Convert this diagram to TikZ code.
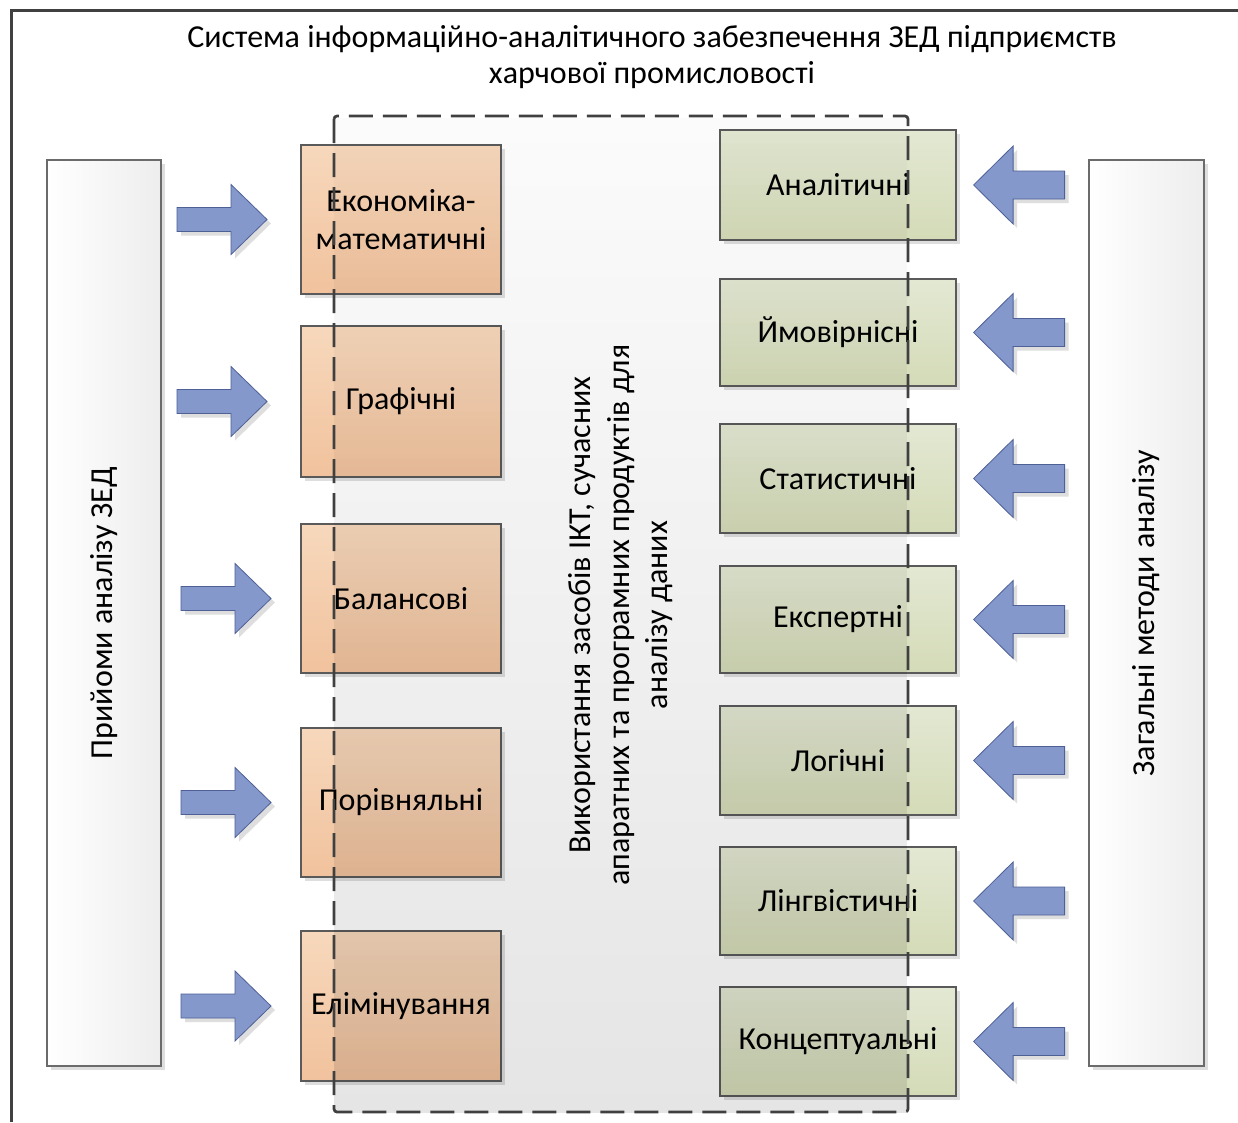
\documentclass[tikz,border=0pt]{standalone}
\usepackage{fontspec}
\setmainfont{Carlito}
\usetikzlibrary{fadings,shadows}

\definecolor{frameline}{HTML}{404040}
\definecolor{boxline}{HTML}{5A5A5A}
\definecolor{orangetop}{HTML}{F7D8BC}
\definecolor{orangebot}{HTML}{F1C29D}
\definecolor{greentop}{HTML}{E3E8D3}
\definecolor{greenbot}{HTML}{D4DBB7}
\definecolor{arrowfill}{HTML}{8498CB}
\definecolor{arrowline}{HTML}{4F6097}
\definecolor{shadowgray}{HTML}{DEDEDE}

\tikzfading[name=downshade, top color=transparent!85, bottom color=transparent!0]

\tikzset{
  txt/.style={font=\fontsize{32}{38}\selectfont, text=black},
  boxshadow/.style={drop shadow={shadow xshift=4pt, shadow yshift=-4pt, fill=shadowgray, opacity=1}},
  sidebox/.style={txt, draw=boxline!90, line width=1.2pt, left color=white, right color=black!7,
                  boxshadow, minimum height=906pt, inner sep=0pt},
  orangebox/.style={txt, draw=boxline, line width=1.2pt, top color=orangetop, bottom color=orangebot,
                    boxshadow, minimum width=200pt, align=center, inner sep=0pt},
  greenbox/.style={txt, draw=boxline, line width=1.2pt, top color=greentop, bottom color=greenbot,
                   boxshadow, minimum width=236pt, align=center, inner sep=0pt},
  blockarrow/.style={fill=arrowfill, draw=arrowline, line width=0.8pt,
                     drop shadow={shadow xshift=4pt, shadow yshift=-4pt, fill=shadowgray, opacity=1}},
  % block arrow pointing right, placed by its tip
  toright/.pic={\path[blockarrow] (0,0) -- (-36,-35) -- (-36,-12) -- (-90,-12) -- (-90,12)
                 -- (-36,12) -- (-36,35) -- cycle;},
  % block arrow pointing left, placed by its tip
  toleft/.pic={\path[blockarrow] (0,0) -- (39.5,-39) -- (39.5,-14) -- (91,-14) -- (91,14)
                -- (39.5,14) -- (39.5,39) -- cycle;},
}

\begin{document}
\begin{tikzpicture}[x=1pt,y=-1pt]
  \useasboundingbox (0,0) rectangle (1238,1122);
  \fill[white] (0,0) rectangle (1238,1122);

  % outer frame
  \draw[frameline, line width=3pt] (11,1122) -- (11,10) -- (1238,10);

  % title
  \node[txt, align=center, font=\fontsize{32}{36}\selectfont] (title) at (652,57)
    {Система інформаційно-аналітичного забезпечення ЗЕД підприємств\\харчової промисловості};

  % side panels
  \node[sidebox, minimum width=114pt] (left) at (104,613)
    {\rotatebox{90}{Прийоми аналізу ЗЕД}};
  \node[sidebox, minimum width=115pt] (right) at (1146.5,613)
    {\rotatebox{90}{Загальні методи аналізу}};

  % analysis techniques
  \node[orangebox, minimum height=149pt] (o1) at (401,219.5) {Економіка-\\математичні};
  \node[orangebox, minimum height=151pt] (o2) at (401,401.5) {Графічні};
  \node[orangebox, minimum height=149pt] (o3) at (401,598.5) {Балансові};
  \node[orangebox, minimum height=149pt] (o4) at (401,802.5) {Порівняльні};
  \node[orangebox, minimum height=150pt] (o5) at (401,1006) {Елімінування};

  % general methods
  \node[greenbox, minimum height=110pt] (g1) at (838,185)    {Аналітичні};
  \node[greenbox, minimum height=107pt] (g2) at (838,332.5)  {Ймовірнісні};
  \node[greenbox, minimum height=109pt] (g3) at (838,478.5)  {Статистичні};
  \node[greenbox, minimum height=107pt] (g4) at (838,619.5)  {Експертні};
  \node[greenbox, minimum height=109pt] (g5) at (838,760.5)  {Логічні};
  \node[greenbox, minimum height=108pt] (g6) at (838,901)    {Лінгвістичні};
  \node[greenbox, minimum height=109pt] (g7) at (838,1041.5) {Концептуальні};

  % arrows into the technique boxes
  \pic at (267,219.5) {toright};
  \pic at (267,401.5) {toright};
  \pic at (271,598.5) {toright};
  \pic at (271,802.5) {toright};
  \pic at (271,1006)  {toright};

  % arrows into the method boxes
  \foreach \g in {g1,g2,g3,g4,g5,g6,g7}
    \pic at ([xshift=17pt]\g.east) {toleft};

  % ICT area: shaded overlay and dashed border
  \fill[black, fill opacity=0.1, path fading=downshade] (334,116) rectangle (908,1112);
  \draw[frameline, line width=2.7pt, dash pattern=on 24pt off 10pt, rounded corners=3pt]
    (334,116) rectangle (908,1112);
  \node[txt, align=center, rotate=90, font=\fontsize{32}{38.5}\selectfont] (ict) at (621,615)
    {Використання засобів ІКТ, сучасних\\апаратних та програмних продуктів для\\аналізу даних};
\end{tikzpicture}
\end{document}
